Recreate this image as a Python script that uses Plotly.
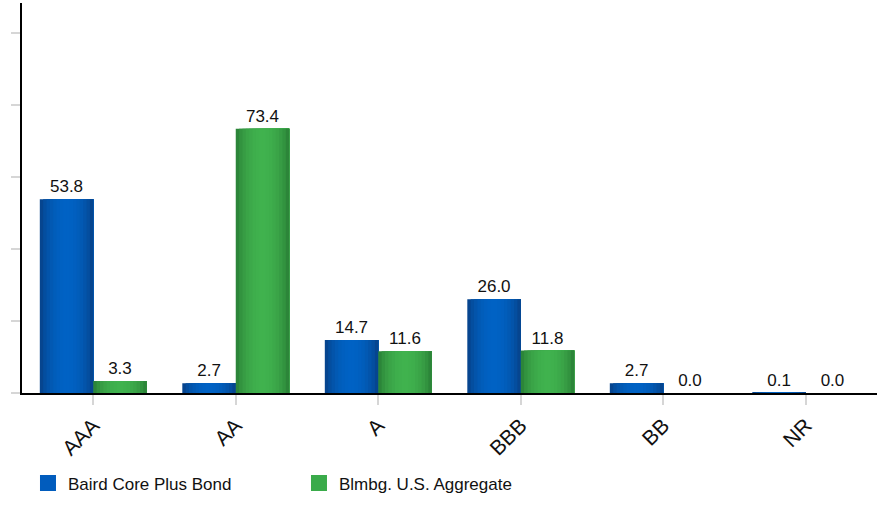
import plotly.graph_objects as go
import numpy as np

categories = ["AAA", "AA", "A", "BBB", "BB", "NR"]
fund_name = "Baird Core Plus Bond"
bench_name = "Blmbg. U.S. Aggregate"
fund_values = [53.8, 2.7, 14.7, 26.0, 2.7, 0.1]
bench_values = [3.3, 73.4, 11.6, 11.8, 0.0, 0.0]

FONT = "Liberation Sans, Arial, sans-serif"
BAR_W = 0.375
N_STRIPS = 16


def mix(c1, c2, t):
    return "rgb(%d,%d,%d)" % tuple(round(a + (b - a) * t) for a, b in zip(c1, c2))


def add_gradient_bars(fig, values, offset, dark, light, name, legend_color):
    # cylinder-like shading: narrow strips drawn left to right, each extends to the bar's right edge
    for i in range(N_STRIPS):
        t = (i + 0.5) / N_STRIPS
        shade = max(np.sin(np.pi * t) ** 0.6, 0.25 * t)
        fig.add_trace(go.Bar(
            x=categories, y=values,
            offset=offset + i * BAR_W / N_STRIPS,
            width=BAR_W - i * BAR_W / N_STRIPS,
            marker=dict(color=mix(dark, light, shade), line=dict(width=0)),
            showlegend=False, hoverinfo="skip",
        ))
    # transparent bar carrying the value labels
    fig.add_trace(go.Bar(
        x=categories, y=values, offset=offset, width=BAR_W,
        marker=dict(color="rgba(0,0,0,0)", line=dict(width=0)),
        texttemplate="%{y:.1f}", textposition="outside", cliponaxis=False,
        constraintext="none",
        textfont=dict(family=FONT, size=17, color="#111111"),
        showlegend=False, name=name,
    ))
    # legend entry
    fig.add_trace(go.Scatter(
        x=[None], y=[None], mode="markers", name=name,
        marker=dict(symbol="square", size=20, color=legend_color),
    ))


fig = go.Figure()
add_gradient_bars(fig, fund_values, -BAR_W, (8, 60, 125), (0, 98, 196), fund_name, "#015cbd")
add_gradient_bars(fig, bench_values, 0.0, (38, 118, 50), (64, 178, 78), bench_name, "#3aab4a")

fig.update_layout(
    barmode="overlay",
    width=884, height=505,
    margin=dict(l=22, r=7, t=3, b=110),
    paper_bgcolor="white", plot_bgcolor="white",
    font=dict(family=FONT, size=17, color="#111111"),
    legend=dict(
        orientation="h", x=0.007, xanchor="left", y=-0.232, yanchor="middle",
        font=dict(family=FONT, size=17, color="#111111"),
        entrywidth=226, entrywidthmode="pixels", itemsizing="trace",
    ),
)
fig.update_xaxes(
    type="category", automargin=False,
    showline=True, linecolor="black", linewidth=2,
    ticks="outside", tickcolor="#d6d6d6", tickwidth=2, ticklen=10,
    tickangle=-45, tickfont=dict(family=FONT, size=21, color="#111111"),
    showgrid=False, zeroline=False,
)
fig.update_yaxes(
    range=[0, 108.3], dtick=20, showticklabels=False, automargin=False,
    showline=True, linecolor="black", linewidth=2,
    ticks="outside", tickcolor="#d6d6d6", tickwidth=2, ticklen=9,
    showgrid=False, zeroline=False,
)

fig.write_html("out.html", config={"displayModeBar": False},
               post_script="document.body.style.margin='0';")
